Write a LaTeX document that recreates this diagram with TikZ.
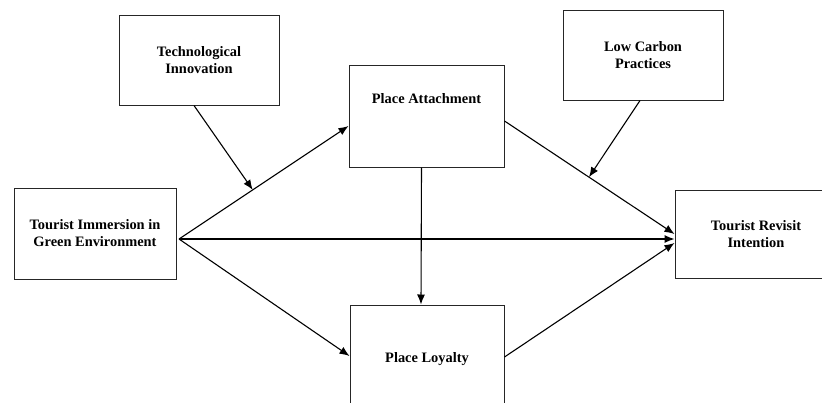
\documentclass[tikz,border=0pt]{standalone}
\usepackage{fontspec}
\setmainfont{Liberation Serif}
\usetikzlibrary{arrows.meta}
\usetikzlibrary{positioning}
\usetikzlibrary{calc}

\begin{document}
\begin{tikzpicture}[x=1pt,y=-1pt]
			\tikzstyle{every node}=[draw=black!85,line width=1pt,rectangle,fill=white,align=center,inner sep=0pt,font=\fontsize{14.4}{17}\selectfont\bfseries]
			\useasboundingbox (0,0) rectangle (822,402);

			\node (tech) [minimum width=160pt,minimum height=90pt] at (199,60) {Technological\\Innovation};
			\node (lowc) [minimum width=160pt,minimum height=90pt] at (643,55) {Low Carbon\\Practices};
			\node (attach) [minimum width=155pt,minimum height=102pt,label={[draw=none,fill=none,anchor=center,yshift=-34pt]north:Place Attachment}] at (426.5,116) {};
			\node (immers) [minimum width=162pt,minimum height=91pt] at (95,233.5) {Tourist Immersion in\\Green Environment};
			\node (revisit) [minimum width=162pt,minimum height=88pt] at (756,234) {Tourist Revisit\\Intention};
			\node (loyal) [minimum width=154pt,minimum height=108pt] at (427,359) {Place Loyalty};

			\coordinate (src) at (179,239);
			\path ([yshift=-5pt]attach.east) -- ([yshift=0pt]revisit.west) coordinate[pos=0.497] (m2);
			\path (src) -- ([yshift=-10pt]attach.west) coordinate[pos=0.435] (m1);

			\path[->,>={Latex[length=10pt,width=8pt]},line width=1.1pt]
			(src) edge ([yshift=-5pt]revisit.west)
			(src) edge ([yshift=-10pt]attach.west)
			(src) edge ([yshift=3pt]loyal.west)
			([yshift=-5pt]attach.east) edge ([yshift=0pt]revisit.west)
			([yshift=2pt]loyal.east) edge ([yshift=-9pt]revisit.west)
			([xshift=-5pt]attach.south) edge ([xshift=-6pt]loyal.north)
			([xshift=-5pt]tech.south) edge (m1)
			([xshift=-3pt]lowc.south) edge (m2);

		\end{tikzpicture}
\end{document}
